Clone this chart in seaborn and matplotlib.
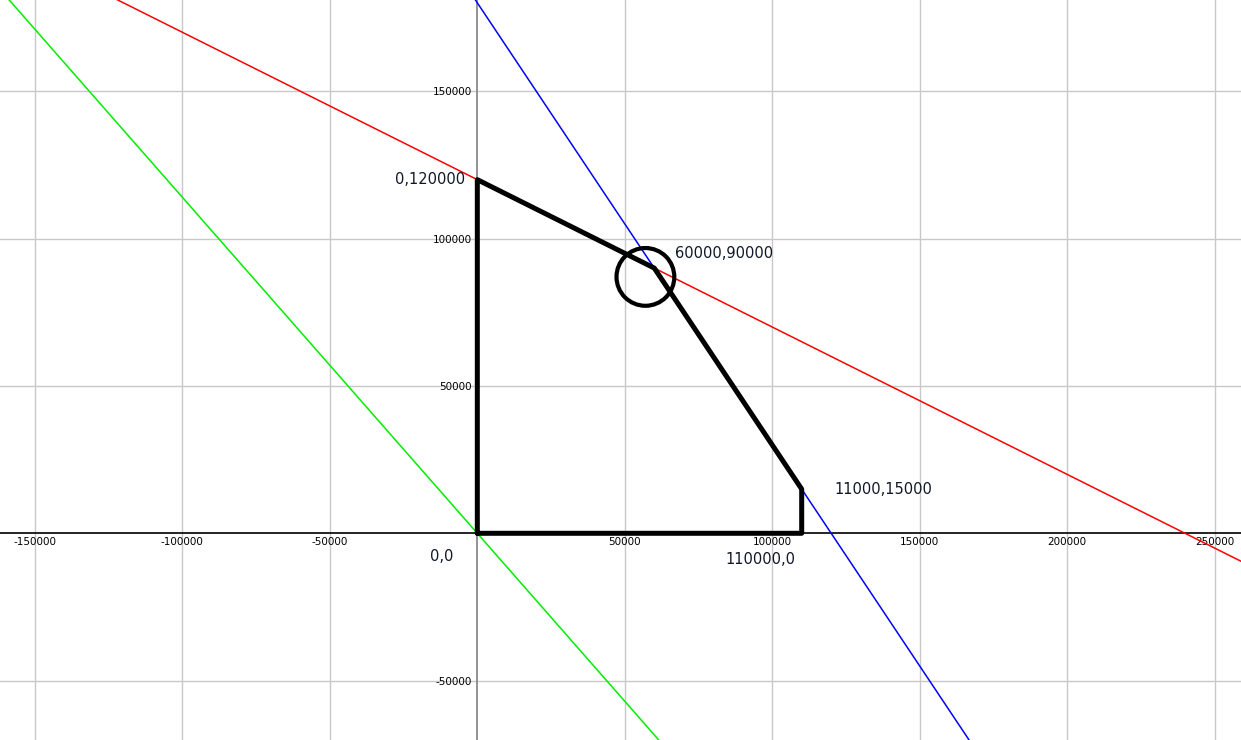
import numpy as np
import pandas as pd
import seaborn as sb
import matplotlib.pyplot as plt
from matplotlib.patches import Circle

# constraint lines, each given by two endpoints
red_x = [-130000, 260000]
red_y = [185000, -10000]
blue_x = [-5000, 175000]
blue_y = [187500, -82500]
green_x = [-170000, 70000]
green_y = [193800, -79800]

# feasible region outline
region_x = [0, 0, 0, 60000, 110000, 110000, 0]
region_y = [0, 60000, 120000, 90000, 15000, 0, 0]

# vertex labels
label_text = ['0,120000', '60000,90000', '11000,15000', '0,0', '110000,0']
label_x = [-4000, 67000, 121000, -8000, 84000]
label_y = [120000, 95000, 14800, -7800, -9000]
label_ha = ['right', 'left', 'left', 'right', 'left']

# marked optimum
circle_x = 57000
circle_y = 87000
circle_r = 9800

ticks = [-150000, -100000, -50000, 50000, 100000, 150000, 200000, 250000]
yticks = [-50000, 50000, 100000, 150000]

sb.set_style("white")
plt.rcParams['font.family'] = ['DejaVu Sans']

lines = pd.DataFrame({
    'x': red_x + blue_x + green_x,
    'y': red_y + blue_y + green_y,
    'line': ['red'] * 2 + ['blue'] * 2 + ['green'] * 2,
})
region = pd.DataFrame({'x': region_x, 'y': region_y})

fig = plt.figure(figsize=(12.41, 7.40), dpi=100)
ax = fig.add_axes([0, 0, 1, 1])

ax.set_xlim(-161860, 258970)
ax.set_ylim(-70140, 180960)

ax.set_xticks(ticks)
ax.set_yticks(yticks)
ax.grid(True, color='#c8c8c8', linewidth=1.0)
ax.set_axisbelow(True)

sb.lineplot(data=lines, x='x', y='y', hue='line', units='line',
            estimator=None, sort=False, ax=ax, legend=False,
            palette={'red': '#ff0000', 'blue': '#0000ff', 'green': '#00ee00'},
            linewidth=1.1, zorder=3)

sb.lineplot(data=region, x='x', y='y', estimator=None, sort=False, ax=ax,
            color='black', linewidth=3.6, solid_joinstyle='round',
            solid_capstyle='round', zorder=4)

ax.add_patch(Circle((circle_x, circle_y), circle_r, fill=False,
                    edgecolor='black', linewidth=3.0, zorder=4))

for t, x, y, ha in zip(label_text, label_x, label_y, label_ha):
    ax.text(x, y, t, ha=ha, va='center', fontsize=10.5, color='#101828',
            zorder=5)

# axes through the origin
for s in ['top', 'right']:
    ax.spines[s].set_visible(False)
ax.spines['left'].set_position(('data', 0))
ax.spines['bottom'].set_position(('data', 0))
ax.spines['left'].set_color('#808080')
ax.spines['bottom'].set_color('black')
ax.spines['left'].set_linewidth(1.2)
ax.spines['bottom'].set_linewidth(1.2)

ax.tick_params(axis='both', which='both', length=0, labelsize=7.5,
               colors='black')
ax.tick_params(axis='x', pad=3)
ax.tick_params(axis='y', pad=4)
ax.set_xticklabels([str(t) for t in ticks])
ax.set_yticklabels([str(t) for t in yticks])
ax.set_xlabel('')
ax.set_ylabel('')

fig.savefig('out.png', dpi=100)
